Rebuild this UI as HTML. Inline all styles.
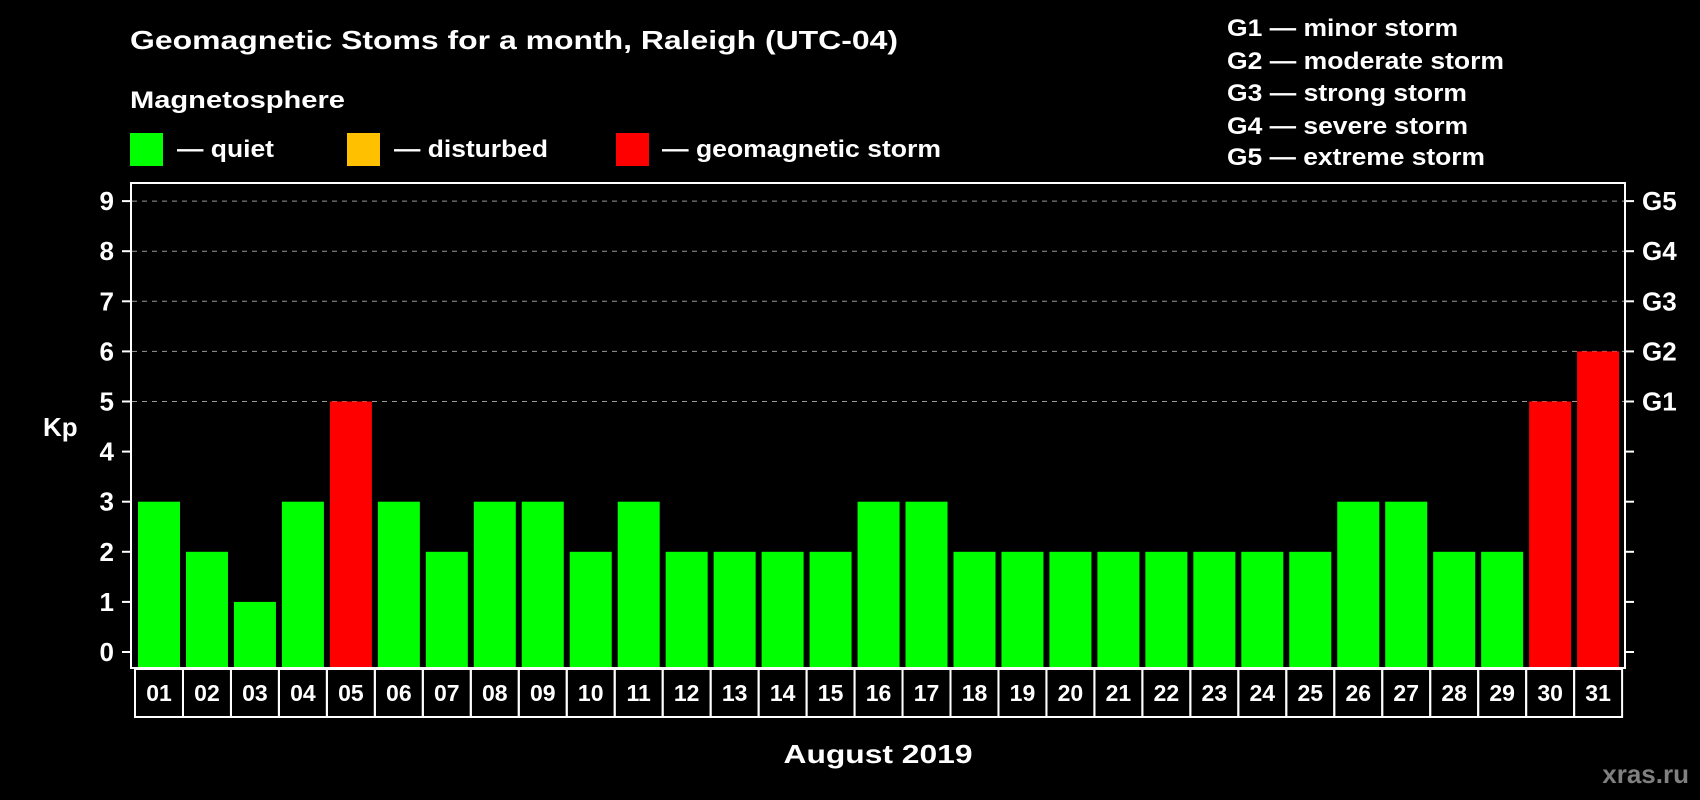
<!DOCTYPE html>
<html><head><meta charset="utf-8"><style>
html,body{margin:0;padding:0;background:#000;}
svg{display:block;font-family:"Liberation Sans",Arial,sans-serif;font-weight:bold;}
</style></head><body>
<svg width="1700" height="800" viewBox="0 0 1700 800">
<rect width="1700" height="800" fill="#000"/>
<text x="130" y="49" font-size="26" fill="#fff" textLength="768" lengthAdjust="spacingAndGlyphs">Geomagnetic Stoms for a month, Raleigh (UTC-04)</text>
<text x="130" y="108" font-size="24" fill="#fff" textLength="215" lengthAdjust="spacingAndGlyphs">Magnetosphere</text>
<rect x="130" y="133" width="33" height="33" fill="#00ff00"/>
<text x="177" y="157" font-size="24" fill="#fff" textLength="97" lengthAdjust="spacingAndGlyphs">— quiet</text>
<rect x="347" y="133" width="33" height="33" fill="#ffc000"/>
<text x="394" y="157" font-size="24" fill="#fff" textLength="154" lengthAdjust="spacingAndGlyphs">— disturbed</text>
<rect x="616" y="133" width="33" height="33" fill="#ff0000"/>
<text x="662" y="157" font-size="24" fill="#fff" textLength="279" lengthAdjust="spacingAndGlyphs">— geomagnetic storm</text>
<g font-size="24" fill="#fff">
<text x="1227" y="36" textLength="231" lengthAdjust="spacingAndGlyphs">G1 — minor storm</text>
<text x="1227" y="69" textLength="277" lengthAdjust="spacingAndGlyphs">G2 — moderate storm</text>
<text x="1227" y="101" textLength="240" lengthAdjust="spacingAndGlyphs">G3 — strong storm</text>
<text x="1227" y="134" textLength="241" lengthAdjust="spacingAndGlyphs">G4 — severe storm</text>
<text x="1227" y="165" textLength="258" lengthAdjust="spacingAndGlyphs">G5 — extreme storm</text>
</g>
<text x="43" y="436" font-size="26" fill="#fff">Kp</text>
<text x="878" y="763" font-size="26" fill="#fff" text-anchor="middle" textLength="189" lengthAdjust="spacingAndGlyphs">August 2019</text>
<text x="1689" y="783" font-size="26" fill="#808080" text-anchor="end">xras.ru</text>
<g id="grid"></g>
<g id="bars"></g>
<g id="axes"></g>
<rect x="131" y="183" width="1494" height="485" fill="none" stroke="#fff" stroke-width="2"/>
</svg>
<script>
const days = ["01","02","03","04","05","06","07","08","09","10","11","12","13","14","15","16","17","18","19","20","21","22","23","24","25","26","27","28","29","30","31"];
const kpValues = [3,2,1,3,5,3,2,3,3,2,3,2,2,2,2,3,3,2,2,2,2,2,2,2,2,3,3,2,2,5,6];
const yTicks = [0,1,2,3,4,5,6,7,8,9];
const gLabels = ["G1","G2","G3","G4","G5"];
const gLevels = [5,6,7,8,9];
const NS="http://www.w3.org/2000/svg";
const yPos = v => 652 - v*50.1;
const xPos = i => 138 + i*47.97;
const barW = 42;
const color = v => v>=5 ? "#ff0000" : (v>=4 ? "#ffc000" : "#00ff00");
function mk(tag, attrs, parent){const e=document.createElementNS(NS,tag);for(const k in attrs)e.setAttribute(k,attrs[k]);parent.appendChild(e);return e;}
const grid=document.getElementById("grid"), bars=document.getElementById("bars"), axes=document.getElementById("axes");
yTicks.forEach(v=>{
  const y=yPos(v);
  if(v>=5){const l=mk("line",{x1:132,x2:1624,y1:y,y2:y,stroke:"#999","stroke-width":1,"stroke-dasharray":"5,5"},grid);
  
  }
  const t1=mk("line",{x1:122,x2:131,y1:y,y2:y,stroke:"#fff","stroke-width":2},axes);
  
  
  const t2=mk("line",{x1:1625,x2:1634,y1:y,y2:y,stroke:"#fff","stroke-width":2},axes);
  
  
  const tx=mk("text",{x:114,y:y+9,"font-size":26,fill:"#fff","text-anchor":"end"},axes);
  tx.textContent=v;
  
  
});
gLabels.forEach((g,i)=>{
  const t=mk("text",{x:1642,y:yPos(gLevels[i])+9,"font-size":26,fill:"#fff"},axes);
  t.textContent=g;
  
  
});
kpValues.forEach((v,i)=>{
  const x=xPos(i);
  const r=mk("rect",{x:x,y:yPos(v),width:barW,height:668-yPos(v),fill:color(v)},bars);
  
  
  const c=mk("rect",{x:x-3,y:669,width:48,height:48,fill:"none",stroke:"#fff","stroke-width":2},axes);
  
  
  const t=mk("text",{x:x+21,y:701,"font-size":23,fill:"#fff","text-anchor":"middle"},axes);
  t.textContent=days[i];
  
  
});
</script>
</body></html>
